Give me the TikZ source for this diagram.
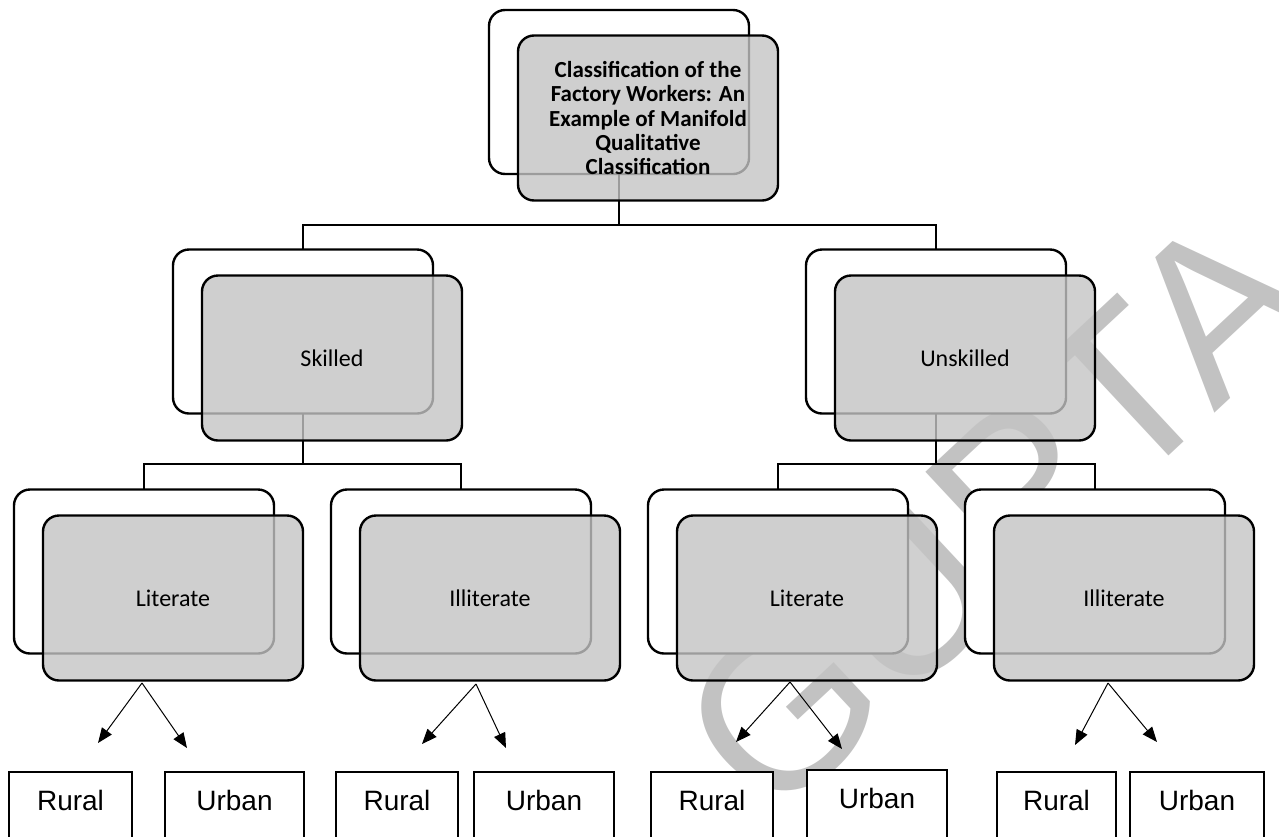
\documentclass[tikz,border=0pt]{standalone}
\usepackage{fontspec}
\setmainfont{Carlito}
\newfontfamily\arialfont{Liberation Sans}
\usetikzlibrary{arrows.meta,calc}

\definecolor{boxgray}{RGB}{196,196,196}
\definecolor{markgray}{RGB}{194,194,194}

\begin{document}
\begin{tikzpicture}[x=1pt,y=-1pt,
  backbox/.style={draw=black, fill=white, line width=2.4pt, rounded corners=16pt,
    minimum width=260pt, minimum height=164pt, inner sep=0pt, outer sep=0pt},
  frontbox/.style={draw=black, fill=boxgray, fill opacity=0.8, text opacity=1,
    line width=2.4pt, rounded corners=16pt, minimum width=260pt, minimum height=165pt,
    inner sep=0pt, outer sep=0pt, align=center, font=\fontsize{24}{25}\selectfont},
  link/.style={line width=2.2pt},
  pointer/.style={line width=1pt, -{Triangle[length=15pt,width=12pt]}},
  leafbox/.style={draw=black, fill=white, line width=1.6pt, inner xsep=0pt,
    inner ysep=0pt, text height=38pt, text depth=70pt,
    font=\arialfont\fontsize{28}{30}\selectfont, anchor=base},
]
\useasboundingbox (0,0) rectangle (1279,836);
\clip (0,0) rectangle (1279,836);

% watermark
\node[text=markgray, rotate=43, inner sep=0pt,
      font=\arialfont\fontsize{224}{224}\selectfont] (wm) at (995,513) {GUPTA};

% back (outline) boxes
\node[backbox] (topb) at (619,92) {};
\node[backbox] (skb)  at (303,331.5) {};
\node[backbox] (unb)  at (936,331.5) {};
\node[backbox] (l1b)  at (144,571.5) {};
\node[backbox] (i1b)  at (461,571.5) {};
\node[backbox] (l2b)  at (778,571.5) {};
\node[backbox] (i2b)  at (1095,571.5) {};

% hierarchy connectors
\draw[link] (topb.south) -- ++(0,51) -| (skb.north);
\draw[link] (topb.south) -- ++(0,51) -| (unb.north);
\draw[link] (skb.south) -- ++(0,50.5) -| (l1b.north);
\draw[link] (skb.south) -- ++(0,50.5) -| (i1b.north);
\draw[link] (unb.south) -- ++(0,50.5) -| (l2b.north);
\draw[link] (unb.south) -- ++(0,50.5) -| (i2b.north);

% front (shaded) boxes
\node[frontbox, font=\bfseries\fontsize{23}{24.3}\selectfont] (top) at (648,118)
  {Classification of the\\Factory Workers: An\\Example of Manifold\\Qualitative\\Classification};
\node[frontbox] (sk) at (332,358) {Skilled};
\node[frontbox] (un) at (965,358) {Unskilled};
\node[frontbox] (l1) at (173,598) {Literate};
\node[frontbox] (i1) at (490,598) {Illiterate};
\node[frontbox] (l2) at (807,598) {Literate};
\node[frontbox] (i2) at (1124,598) {Illiterate};

% arrow origins and tips
\coordinate (o1) at (142,683);  \coordinate (a1) at (98,743);   \coordinate (b1) at (187,748);
\coordinate (o2) at (476,684);  \coordinate (a2) at (422,744);  \coordinate (b2) at (506,748);
\coordinate (o3) at (790,682);  \coordinate (a3) at (736,742);  \coordinate (b3) at (842,749);
\coordinate (o4) at (1108,683); \coordinate (a4) at (1075,745); \coordinate (b4) at (1157,742);
\foreach \g in {1,2,3,4}{
  \draw[pointer] (o\g) -- (a\g);
  \draw[pointer] (o\g) -- (b\g);
}

% rural / urban boxes
\node[leafbox, minimum width=123pt] (r1) at (70.5,810) {Rural};
\node[leafbox, minimum width=139pt] (u1) at (234.5,810) {Urban};
\node[leafbox, minimum width=122pt] (r2) at (397,810) {Rural};
\node[leafbox, minimum width=140pt] (u2) at (544,810) {Urban};
\node[leafbox, minimum width=122pt] (r3) at (712,810) {Rural};
\node[leafbox, minimum width=140pt] (u3) at (877,808) {Urban};
\node[leafbox, minimum width=119pt] (r4) at (1056.5,810) {Rural};
\node[leafbox, minimum width=134pt] (u4) at (1197,810) {Urban};
\end{tikzpicture}
\end{document}
